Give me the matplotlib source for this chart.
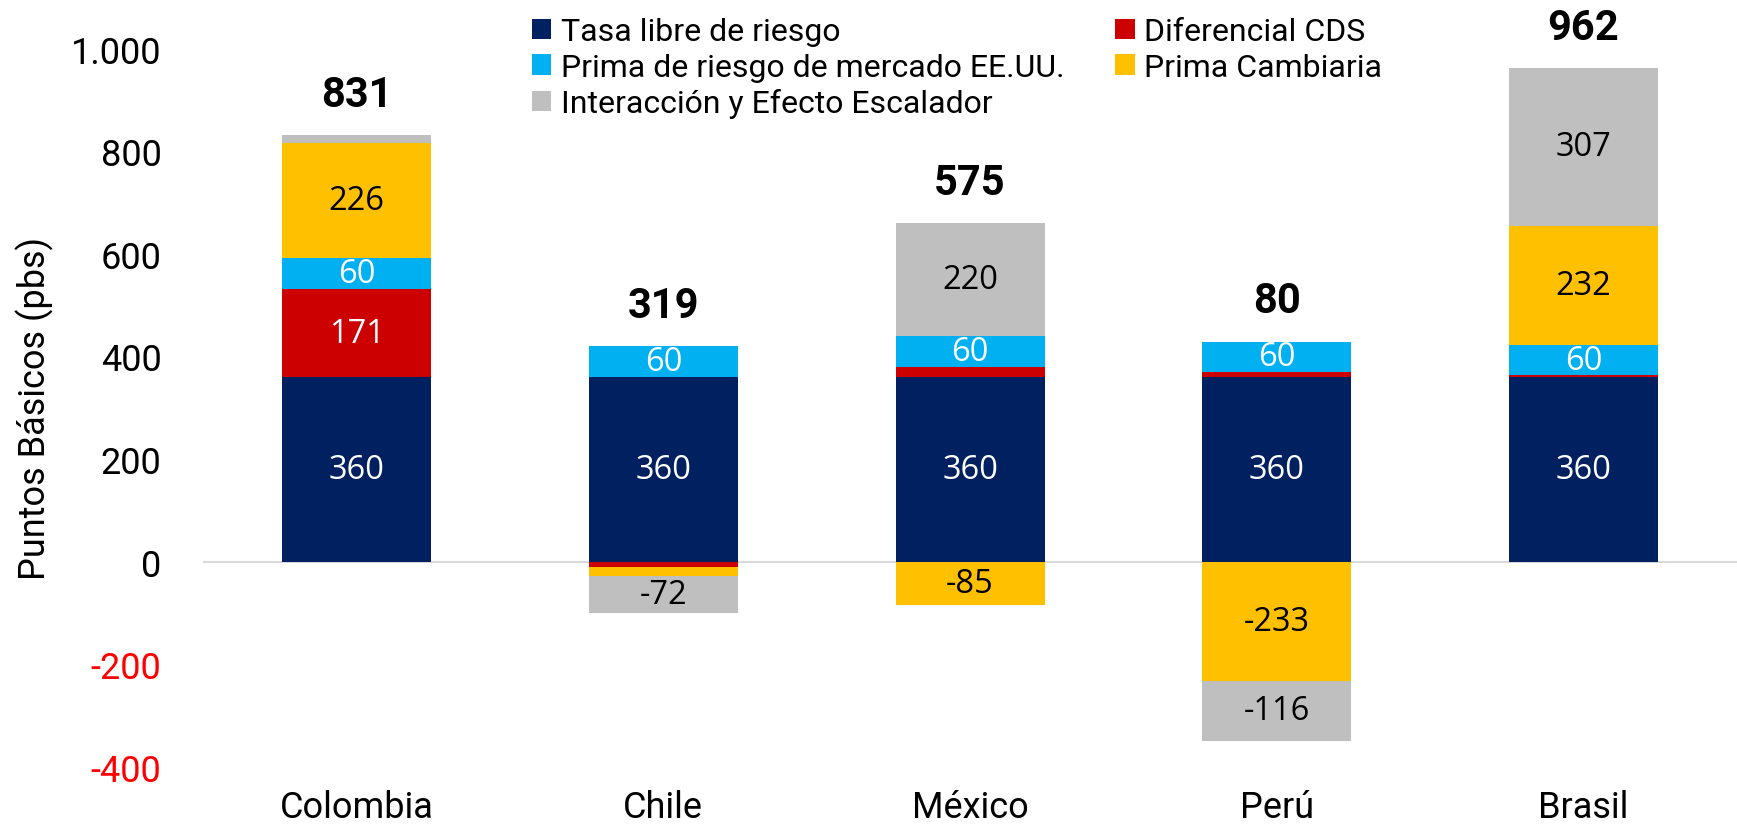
import numpy as np
import matplotlib
matplotlib.use('Agg')
from matplotlib import pyplot as plt
from matplotlib.ticker import FuncFormatter

paises = ['Colombia', 'Chile', 'México', 'Perú', 'Brasil']
tasa_libre = [360, 360, 360, 360, 360]
dif_cds = [171, -10, 20, 9, 3]
prima_mercado = [60, 60, 60, 60, 60]
prima_cambiaria = [226, -19, -85, -233, 232]
interaccion = [14, -72, 220, -116, 307]
totales = [831, 319, 575, 80, 962]

series = [
    ('Tasa libre de riesgo', tasa_libre, '#002060', 'white'),
    ('Diferencial CDS', dif_cds, '#CC0000', 'white'),
    ('Prima de riesgo de mercado EE.UU.', prima_mercado, '#00B0F0', 'white'),
    ('Prima Cambiaria', prima_cambiaria, '#FFC000', 'black'),
    ('Interacción y Efecto Escalador', interaccion, '#BFBFBF', 'black'),
]

plt.rcParams['font.family'] = ['Roboto', 'DejaVu Sans']

fig = plt.figure(figsize=(17.37, 8.29), dpi=100)
fig.set_facecolor('white')
ax = fig.add_axes([0.117, 0.074, 0.883, 0.866])

x = np.arange(len(paises))
pos_base = np.zeros(len(paises))
neg_base = np.zeros(len(paises))
handles = {}
for name, vals, color, tcolor in series:
    vals = np.array(vals, dtype=float)
    bottom = np.where(vals >= 0, pos_base, neg_base)
    bars = ax.bar(x, vals, 0.485, bottom=bottom, color=color, label=name, zorder=3)
    handles[name] = bars
    for xi, v, b in zip(x, vals, bottom):
        if abs(v) >= 50:
            ax.text(xi, b + v / 2, '%d' % v, ha='center', va='center',
                    color=tcolor, fontsize=23.5, family='Open Sans', zorder=4)
    pos_base = pos_base + np.where(vals >= 0, vals, 0)
    neg_base = neg_base + np.where(vals < 0, vals, 0)

for xi, top, t in zip(x, pos_base, totales):
    ax.text(xi, top + 40, str(t), ha='center', va='bottom',
            fontsize=30, fontweight='bold')

ax.axhline(0, color='#D9D9D9', lw=1.5, zorder=2)
ax.set_xlim(-0.5, 4.5)
ax.set_ylim(-400, 1000)
ax.set_yticks(np.arange(-400, 1001, 200))
ax.yaxis.set_major_formatter(FuncFormatter(lambda v, p: '{:,.0f}'.format(v).replace(',', '.')))
ax.set_xticks(x)
ax.set_xticklabels(paises)
ax.tick_params(axis='both', length=0, labelsize=26)
ax.tick_params(axis='y', pad=30)
ax.tick_params(axis='x', pad=16)
for lbl, val in zip(ax.get_yticklabels(), ax.get_yticks()):
    if val < 0:
        lbl.set_color('#FF0000')
for s in ax.spines.values():
    s.set_visible(False)
ax.set_ylabel('Puntos Básicos (pbs)', fontsize=26, labelpad=12)

order = ['Tasa libre de riesgo', 'Prima de riesgo de mercado EE.UU.',
         'Interacción y Efecto Escalador', 'Diferencial CDS', 'Prima Cambiaria']
ax.legend([handles[n] for n in order], order, ncol=2, loc='upper left',
          bbox_to_anchor=(0.297, 0.997), bbox_transform=fig.transFigure,
          frameon=False, fontsize=23, handlelength=0.6, handleheight=0.6,
          handletextpad=0.3, columnspacing=1.6, labelspacing=0.2,
          borderpad=0)

fig.savefig('out.png', dpi=100)
